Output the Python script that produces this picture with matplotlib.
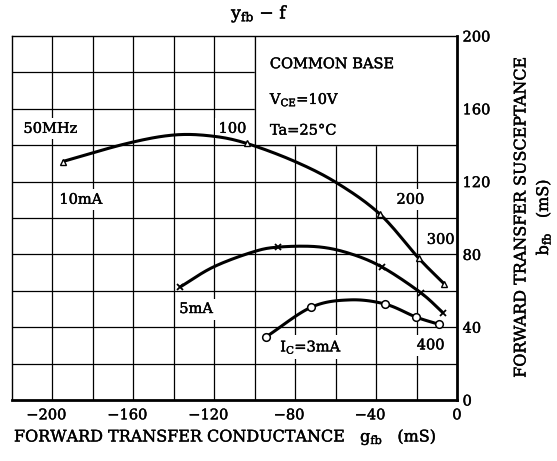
import numpy as np
import matplotlib
matplotlib.use("Agg")
import matplotlib.pyplot as plt
import matplotlib.patheffects as pe
import matplotlib.transforms as mtrans

# ---- data (g_fb, b_fb in mS) ----
# 10 mA (triangles) markers: 50, 100, 200, 300 MHz and last point (400 MHz)
g10 = [-195, -104, -38, -19, -6.5]
b10 = [131, 141, 102, 78, 64]
# 10 mA curve trace
g10c = [-195, -163, -140, -121, -104, -80, -59, -38, -19, -6.5]
b10c = [131, 141, 145.6, 145, 141, 131, 119, 102, 78, 64]

# 5 mA (x markers)
g5 = [-137, -88.5, -37, -18, -7]
b5 = [62, 84, 73, 59, 48]
g5c = [-137, -120.6, -101, -88.5, -69, -53, -37, -18, -7]
b5c = [62, 73, 81.3, 84, 84.2, 80.5, 73, 59, 48]

# 3 mA (circles)
g3 = [-94.5, -72, -35.5, -20.3, -9]
b3 = [34.6, 51, 52.7, 45.6, 41.6]
g3c = [-94.5, -72, -53, -35.5, -20.3, -9]
b3c = [34.6, 51, 55, 52.7, 45.6, 41.6]

xticks = [-200, -160, -120, -80, -40, 0]
yticks = [0, 40, 80, 120, 160, 200]


def smooth(xs, ys, n=20):
    x = np.asarray(xs, float)
    y = np.asarray(ys, float)
    P = np.column_stack([x, y])
    P = np.vstack([2 * P[0] - P[1], P, 2 * P[-1] - P[-2]])
    out = []
    for i in range(1, len(P) - 2):
        p0, p1, p2, p3 = P[i - 1], P[i], P[i + 1], P[i + 2]
        t = np.linspace(0, 1, n, endpoint=False)[:, None]
        pts = 0.5 * ((2 * p1) + (-p0 + p2) * t + (2 * p0 - 5 * p1 + 4 * p2 - p3) * t ** 2
                     + (-p0 + 3 * p1 - 3 * p2 + p3) * t ** 3)
        out.append(pts)
    out.append(P[-2][None, :])
    out = np.vstack(out)
    return out[:, 0], out[:, 1]


FONT = "DejaVu Serif"
plt.rcParams['font.family'] = FONT
plt.rcParams['mathtext.fontset'] = 'dejavuserif'
bold = [pe.withStroke(linewidth=0.3, foreground='black')]

fig = plt.figure(figsize=(5.57, 4.61), dpi=100)
ax = fig.add_axes([12 / 557, 1 - 400 / 461, 445 / 557, 364 / 461])
ax.set_xlim(-220, 0)
ax.set_ylim(0, 200)

# grid
for gx in np.arange(-200, 0, 20):
    ax.axvline(gx, color='black', lw=0.9, zorder=1)
for gy in np.arange(20, 200, 20):
    ax.axhline(gy, color='black', lw=0.9, zorder=1)

# spines
for s in ['left', 'top']:
    ax.spines[s].set_linewidth(1.0)
for s in ['right', 'bottom']:
    ax.spines[s].set_linewidth(2.0)
for s in ax.spines.values():
    s.set_zorder(6)

ax.yaxis.tick_right()
ax.set_xticks(xticks)
ax.set_xticklabels(['\u2212' + str(-v) if v < 0 else str(v) for v in xticks], fontsize=10.5)
ax.set_yticks(yticks)
ax.set_yticklabels([str(v) for v in yticks], fontsize=10.5)
ax.tick_params(length=0, pad=4)
ax.tick_params(axis='x', pad=6)
off = mtrans.ScaledTranslation(-6 / 100, 0, fig.dpi_scale_trans)
for lab, v in zip(ax.get_xticklabels(), xticks):
    if v < 0:
        lab.set_transform(lab.get_transform() + off)
for lab in ax.get_xticklabels() + ax.get_yticklabels():
    lab.set_path_effects(bold)

# white box for conditions (covers grid)
ax.fill_between([-100, 0], 140, 200, color='white', zorder=2)
ax.plot([-100, -100, 0], [200, 140, 140], color='black', lw=0.9, zorder=2.1)

# curves
lw = 2.2
for gc, bc in [(g10c, b10c), (g5c, b5c), (g3c, b3c)]:
    xs, ys = smooth(gc, bc)
    ax.plot(xs, ys, color='black', lw=lw, zorder=4, solid_capstyle='butt')

ax.plot(g10, b10, ls='none', marker='^', ms=5, mfc='white', mec='black', mew=1.0, zorder=5)
ax.plot(g5, b5, ls='none', marker='x', ms=5, mec='black', mew=1.3, zorder=5)
ax.plot(g3, b3, ls='none', marker='o', ms=5.5, mfc='white', mec='black', mew=1.1, zorder=5)

bb = dict(facecolor='white', edgecolor='none', pad=2.5)
fs = 10.5
kw = dict(ha='center', va='center', fontsize=fs, bbox=bb, zorder=2.3, path_effects=bold)
ax.text(-201, 149, '50MHz', **kw)
ax.text(-111, 149, '100', **kw)
ax.text(-186, 110, '10mA', **kw)
ax.text(-23, 110, '200', **kw)
ax.text(-8, 88, '300', **kw)
ax.text(-129, 50, '5mA', **kw)
ax.text(-72, 29, r'I$_{\mathrm{C}}$=3mA', **kw)
ax.text(-13, 30, '400', **kw)

kw2 = dict(ha='left', va='center', fontsize=fs, zorder=3, path_effects=bold)
ax.text(-92.5, 184.5, 'COMMON BASE', **kw2)
ax.text(-92.5, 165, r'V$_{\mathrm{CE}}$=10V', **kw2)
ax.text(-92.5, 148, 'Ta=25\u00b0C', **kw2)

fig.text(260 / 557, 1 - 14 / 461, 'y$_{\\mathrm{fb}}$ \u2212 f',
         ha='center', va='center', fontsize=12.5, path_effects=bold)

fs2 = 11.5
fig.text(14 / 557, 1 - 437 / 461, r'FORWARD TRANSFER CONDUCTANCE   g$_{\mathrm{fb}}$   (mS)',
         ha='left', va='center', fontsize=fs2, path_effects=bold)
fig.text(521 / 557, 1 - 217 / 461, 'FORWARD TRANSFER SUSCEPTANCE', rotation=90,
         ha='center', va='center', fontsize=fs2, path_effects=bold)
fig.text(543 / 557, 1 - 217 / 461, r'b$_{\mathrm{fb}}$   (mS)', rotation=90,
         ha='center', va='center', fontsize=fs2, path_effects=bold)

fig.savefig('out.png', dpi=100, facecolor='white')
